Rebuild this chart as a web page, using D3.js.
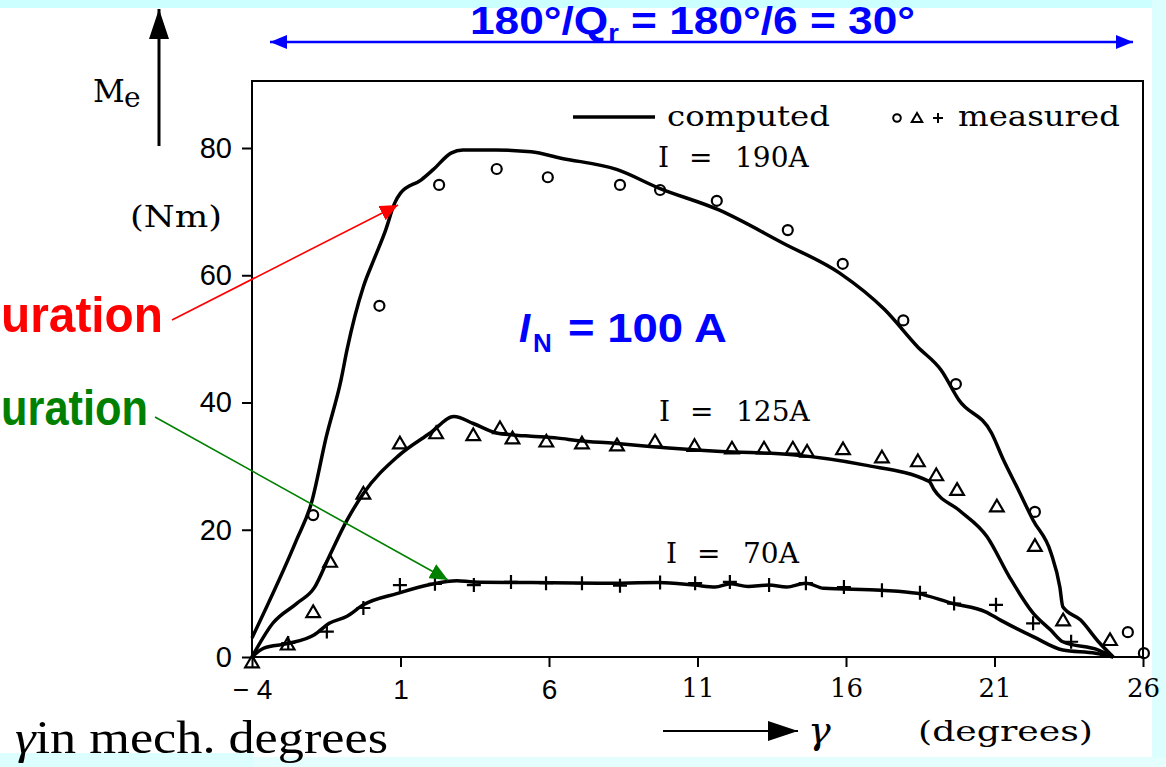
<!DOCTYPE html>
<html>
<head>
<meta charset="utf-8">
<script src="https://d3js.org/d3.v7.min.js"></script>
<style>
  body { margin: 0; background: #ffffff; }
  svg { display: block; }
</style>
</head>
<body>
<svg></svg>
<script>
// computed curves (gamma in degrees, torque in Nm)
var comp190G = [-4, -2.5, -2, -1.5, -1, -0.8, -0.25, 0.1, 0.5, 0.8, 1.0, 1.7, 2.1, 2.7, 3.1, 4.2, 5.4, 6.4, 8.3, 9.7, 11.7, 13.9, 15.8, 17.3, 18.4, 19.2, 19.8, 20.9, 21.3, 21.8, 22.3, 22.9, 23.2, 23.3, 23.9, 24.5, 25.0];
var comp190M = [3, 18.4, 24.2, 34.6, 43.6, 48.3, 58.2, 62.4, 67.1, 71.3, 72.9, 75.0, 76.6, 79.2, 79.7, 79.7, 79.4, 78.4, 76.6, 73.7, 70.3, 65.0, 60.3, 54.6, 48.8, 45.1, 40.4, 35.2, 31.0, 26.3, 21.5, 16.4, 11.0, 7.9, 5.8, 2.4, 0];

var comp125G = [-4, -3.3, -2.5, -1.9, -1.4, -0.8, -0.25, 0.9, 2.0, 2.8, 3.45, 4.24, 4.8, 5.4, 6.3, 7.0, 8.2, 9.4, 11.8, 14.2, 16.6, 18.8, 18.95, 19.8, 20.75, 21.5, 22.3, 22.9, 23.3, 24.5, 25.0];
var comp125M = [0, 5.3, 8.4, 10.9, 15.8, 21.5, 25.7, 31.5, 35.2, 37.8, 36.7, 35.2, 34.9, 34.7, 34.4, 34.0, 33.6, 33.1, 32.3, 31.8, 30.2, 27.6, 26.4, 23.1, 18.9, 12.6, 6.9, 4.2, 2.4, 1.1, 0];

var comp70G = [-4, -3.6, -2.8, -1.9, -1.4, -0.8, -0.25, 0.9, 2.0, 2.9, 3.45, 5.4, 7.7, 9.7, 10.9, 11.6, 12.1, 12.7, 13.4, 14.0, 14.65, 15.25, 17.2, 18.4, 19.6, 20.7, 21.2, 22.3, 23.3, 24.4, 25.0];
var comp70M = [0, 1.4, 2.1, 3.5, 5.3, 6.4, 8.2, 10.0, 11.4, 12.0, 11.8, 11.7, 11.6, 11.7, 11.3, 11.0, 11.5, 11.1, 11.3, 11.0, 11.6, 10.8, 10.5, 10.0, 8.4, 7.1, 5.8, 3.2, 1.1, 0.6, 0];

// measured points
var meas190G = [-1.94, 0.29, 2.3, 4.24, 5.96, 8.39, 9.74, 11.65, 14.04, 15.89, 17.93, 19.7, 22.36, 25.49, 26.03];
var meas190M = [22.3, 55.2, 74.2, 76.7, 75.4, 74.2, 73.4, 71.7, 67.1, 61.8, 52.9, 42.9, 22.8, 3.9, 0.6];

var meas125G = [-4, -2.8, -1.94, -1.37, -0.25, 0.98, 2.2, 3.45, 4.35, 4.77, 5.91, 7.11, 8.29, 9.57, 10.9, 12.16, 13.24, 14.21, 14.69, 15.9, 17.21, 18.42, 19.04, 19.74, 21.08, 22.36, 23.31, 24.89];
var meas125M = [-0.8, 2.0, 7.1, 15.0, 25.7, 33.6, 35.2, 34.9, 36.0, 34.4, 33.9, 33.6, 33.3, 33.9, 33.2, 32.8, 32.8, 32.8, 32.3, 32.7, 31.4, 30.8, 28.6, 26.3, 23.7, 17.5, 5.8, 2.7];

var meas70G = [-2.78, -1.48, -0.25, 0.98, 2.16, 3.47, 4.72, 5.9, 7.11, 8.39, 9.74, 10.92, 12.09, 13.41, 14.65, 15.93, 17.21, 18.49, 19.64, 21.05, 22.3, 23.58];
var meas70M = [2.2, 4.0, 7.7, 11.3, 11.5, 11.3, 11.8, 11.6, 11.6, 11.2, 11.7, 11.6, 11.8, 11.3, 11.6, 11.0, 10.5, 10.1, 8.4, 8.2, 5.3, 2.4];

var xTicks = [-4, 1, 6, 11, 16, 21, 26];
var yTicks = [0, 20, 40, 60, 80];
var currents = ["190A", "125A", "70A"];

var screen = {width: 1166, height: 767};
var frame = {left: 252, right: 1143, top: 81, bottom: 657};

var svg = d3.select("svg")
    .attr("width", screen.width)
    .attr("height", screen.height);

// arrow heads
var defs = svg.append("defs");
var addMarker = function(id, color, len, half) {
    defs.append("marker")
        .attr("id", id)
        .attr("viewBox", "0 0 " + len + " " + (half * 2))
        .attr("refX", len).attr("refY", half)
        .attr("markerWidth", len).attr("markerHeight", half * 2)
        .attr("markerUnits", "userSpaceOnUse")
        .attr("orient", "auto-start-reverse")
        .append("path")
        .attr("d", "M0,0L" + len + "," + half + "L0," + (half * 2) + "Z")
        .attr("fill", color);
}
addMarker("headBlue", "#0000ff", 17, 7);
addMarker("headRed", "#ff0000", 18, 8);
addMarker("headGreen", "#008000", 18, 8);
addMarker("headBlack", "#000000", 30, 10);

// cyan slide border
svg.append("rect").attr("x", 0).attr("y", 0).attr("width", screen.width).attr("height", 8).attr("fill", "#ccffff");
svg.append("rect").attr("x", 1152).attr("y", 0).attr("width", 14).attr("height", screen.height).attr("fill", "#dcfefe");
svg.append("rect").attr("x", 0).attr("y", 753).attr("width", 253).attr("height", 14).attr("fill", "#dcfefe");
svg.append("rect").attr("x", 253).attr("y", 757).attr("width", 913).attr("height", 10).attr("fill", "#e4fefe");

var xScale = d3.scaleLinear().domain([-4, 26]).range([frame.left, frame.right]);
var yScale = d3.scaleLinear().domain([0, 80]).range([frame.bottom, 148]);

// plot frame
svg.append("rect")
    .attr("x", frame.left).attr("y", frame.top)
    .attr("width", frame.right - frame.left)
    .attr("height", frame.bottom - frame.top)
    .attr("fill", "none").attr("stroke", "#000").attr("stroke-width", 2);

var yAxis = svg.append("g")
    .attr("transform", "translate(" + frame.left + ",0)")
    .call(d3.axisLeft(yScale).tickValues(yTicks).tickSize(10).tickPadding(10));
yAxis.select(".domain").remove();
yAxis.selectAll("line").attr("stroke-width", 2);
yAxis.selectAll("text")
    .attr("font-family", "Liberation Sans, Arial, sans-serif")
    .attr("font-size", 29).attr("fill", "#000");

var xAxis = svg.append("g")
    .attr("transform", "translate(0," + frame.bottom + ")")
    .call(d3.axisBottom(xScale).tickValues(xTicks).tickSize(10).tickPadding(12)
        .tickFormat(function(d){ return d < 0 ? "\u2212 " + (-d) : "" + d; }));
xAxis.select(".domain").remove();
xAxis.selectAll("line").attr("stroke-width", 2);
xAxis.selectAll("text")
    .attr("font-family", function(d){ return d > 10 ? "DejaVu Serif, serif" : "Liberation Sans, Arial, sans-serif"; })
    .attr("font-size", function(d){ return d > 10 ? 26 : 28; })
    .attr("fill", "#000");

// computed curves
var lineGen = d3.line()
    .x(function(p){ return xScale(p.x); })
    .y(function(p){ return yScale(p.y); })
    .curve(d3.curveMonotoneX);

var toPoints = function(gs, ms) {
    return gs.map(function(g, i){ return {x: g, y: ms[i]}; });
}

var curves = [toPoints(comp190G, comp190M), toPoints(comp125G, comp125M), toPoints(comp70G, comp70M)];
svg.append("g").selectAll("path")
    .data(curves)
    .enter()
    .append("path")
    .attr("d", lineGen)
    .attr("fill", "none")
    .attr("stroke", "#000")
    .attr("stroke-width", 3.5)
    .attr("stroke-linejoin", "round");

// measured symbols
var shapes = {
    circle: function(s){ return d3.symbol(d3.symbolCircle, Math.PI * s * s)(); },
    triangle: function(s){ return "M0," + (-s) + "L" + (s * 1.05) + "," + (s * 0.8) + "L" + (-s * 1.05) + "," + (s * 0.8) + "Z"; },
    plus: function(s){ return "M" + (-s) + ",0H" + s + "M0," + (-s) + "V" + s; }
};
var drawMeasured = function(gs, ms, shape, size) {
    svg.append("g").selectAll("path")
        .data(toPoints(gs, ms))
        .enter()
        .append("path")
        .attr("transform", function(p){ return "translate(" + xScale(p.x) + "," + yScale(p.y) + ")"; })
        .attr("d", shapes[shape](size))
        .attr("fill", "none")
        .attr("stroke", "#000")
        .attr("stroke-width", 2.2);
}
drawMeasured(meas190G, meas190M, "circle", 5);
drawMeasured(meas125G, meas125M, "triangle", 6.5);
drawMeasured(meas70G, meas70M, "plus", 7);

var serif = "DejaVu Serif, serif";

// legend
svg.append("line").attr("x1", 573).attr("x2", 655).attr("y1", 117).attr("y2", 117)
    .attr("stroke", "#000").attr("stroke-width", 3.5);
svg.append("text").attr("x", 667).attr("y", 126).text("computed")
    .attr("font-family", serif).attr("font-size", 28)
    .attr("textLength", 163).attr("lengthAdjust", "spacingAndGlyphs");
[["circle", 897, 3.8], ["triangle", 917, 5], ["plus", 938, 5]].forEach(function(s){
    svg.append("path")
        .attr("transform", "translate(" + s[1] + ",118)")
        .attr("d", shapes[s[0]](s[2]))
        .attr("fill", "none").attr("stroke", "#000").attr("stroke-width", 2);
})
svg.append("text").attr("x", 958).attr("y", 126).text("measured")
    .attr("font-family", serif).attr("font-size", 28)
    .attr("textLength", 162).attr("lengthAdjust", "spacingAndGlyphs");

// current labels
var labelPos = [[658, 167], [659, 421], [666, 563]];
currents.forEach(function(c, i){
    var t = svg.append("text").attr("y", labelPos[i][1])
        .attr("font-family", serif).attr("font-size", 28);
    t.append("tspan").attr("x", labelPos[i][0]).text("I");
    t.append("tspan").attr("x", labelPos[i][0] + 31).text("=");
    t.append("tspan").attr("x", labelPos[i][0] + 77).text(c);
})

// axis titles
svg.append("line").attr("x1", 159).attr("x2", 159).attr("y1", 146).attr("y2", 9)
    .attr("stroke", "#000").attr("stroke-width", 3).attr("marker-end", "url(#headBlack)");
svg.append("text").attr("x", 93).attr("y", 102).text("M")
    .attr("font-family", serif).attr("font-size", 31);
svg.append("text").attr("x", 124).attr("y", 107).text("e")
    .attr("font-family", serif).attr("font-size", 28);
svg.append("text").attr("x", 130).attr("y", 227).text("(Nm)")
    .attr("font-family", serif).attr("font-size", 30)
    .attr("textLength", 92).attr("lengthAdjust", "spacingAndGlyphs");

svg.append("line").attr("x1", 663).attr("x2", 798).attr("y1", 731).attr("y2", 731)
    .attr("stroke", "#000").attr("stroke-width", 2).attr("marker-end", "url(#headBlack)");
svg.append("text").attr("x", 808).attr("y", 743).text("\u03b3")
    .attr("font-family", serif).attr("font-style", "italic").attr("font-size", 38);
svg.append("text").attr("x", 918).attr("y", 741).text("(degrees)")
    .attr("font-family", serif).attr("font-size", 28)
    .attr("textLength", 175).attr("lengthAdjust", "spacingAndGlyphs");

var gammaNote = svg.append("text").attr("x", 15).attr("y", 753)
    .attr("font-family", "Liberation Serif, Times New Roman, serif").attr("font-size", 46)
    .attr("textLength", 373).attr("lengthAdjust", "spacingAndGlyphs");
gammaNote.append("tspan").attr("font-style", "italic").text("\u03b3");
gammaNote.append("tspan").text("in mech. degrees");

// slide annotations
var title = svg.append("text").attr("x", 470).attr("y", 34)
    .attr("font-family", "Liberation Sans, Arial, sans-serif").attr("font-weight", "bold")
    .attr("font-size", 39).attr("fill", "#0000ff")
    .attr("textLength", 445).attr("lengthAdjust", "spacingAndGlyphs");
title.append("tspan").text("180\u00b0/Q");
title.append("tspan").attr("font-size", 24).attr("dy", 7).text("r");
title.append("tspan").attr("dy", -7).text(" = 180\u00b0/6 = 30\u00b0");

svg.append("line").attr("x1", 270).attr("x2", 1133).attr("y1", 42).attr("y2", 42)
    .attr("stroke", "#0000ff").attr("stroke-width", 2.5)
    .attr("marker-start", "url(#headBlue)").attr("marker-end", "url(#headBlue)");

var inLabel = svg.append("g")
    .attr("font-family", "Liberation Sans, Arial, sans-serif").attr("font-weight", "bold")
    .attr("fill", "#0000ff");
inLabel.append("text").attr("x", 519).attr("y", 342).attr("font-size", 40)
    .attr("font-style", "italic").text("I");
inLabel.append("text").attr("x", 533).attr("y", 352).attr("font-size", 26).text("N");
inLabel.append("text").attr("x", 568).attr("y", 342).attr("font-size", 40)
    .attr("textLength", 159).attr("lengthAdjust", "spacingAndGlyphs").text("= 100 A");

// saturation pointers (words run off the left edge of the slide in the original)
svg.append("text").attr("x", 1).attr("y", 332)
    .attr("font-family", "Liberation Sans, Arial, sans-serif").attr("font-weight", "bold")
    .attr("font-size", 50).attr("fill", "#ff0000")
    .attr("textLength", 162).attr("lengthAdjust", "spacingAndGlyphs").text("uration");
svg.append("line").attr("x1", 172).attr("y1", 320).attr("x2", 398).attr("y2", 205)
    .attr("stroke", "#ff0000").attr("stroke-width", 1.6).attr("marker-end", "url(#headRed)");

svg.append("text").attr("x", 1).attr("y", 425)
    .attr("font-family", "Liberation Sans, Arial, sans-serif").attr("font-weight", "bold")
    .attr("font-size", 50).attr("fill", "#008000")
    .attr("textLength", 147).attr("lengthAdjust", "spacingAndGlyphs").text("uration");
svg.append("line").attr("x1", 155).attr("y1", 417).attr("x2", 448).attr("y2", 580)
    .attr("stroke", "#008000").attr("stroke-width", 1.6).attr("marker-end", "url(#headGreen)");
</script>
</body>
</html>
